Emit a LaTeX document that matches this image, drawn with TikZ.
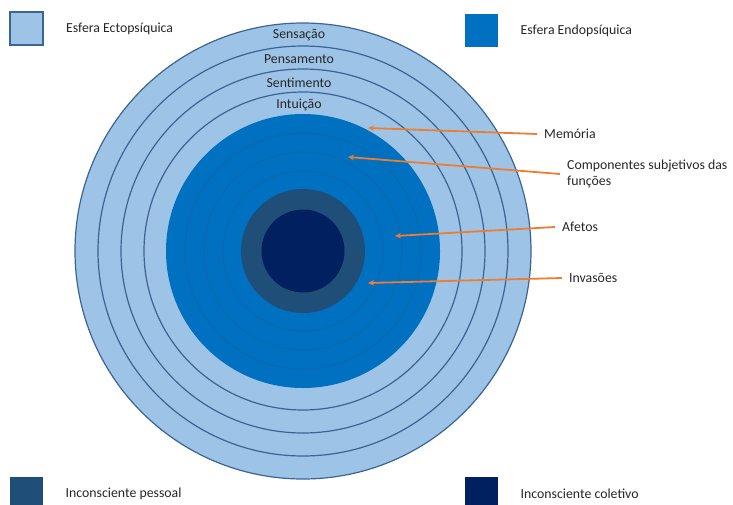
\documentclass[tikz,border=0pt]{standalone}
\usepackage{fontspec}
\setmainfont{Carlito}
\usetikzlibrary{arrows.meta,positioning}

\definecolor{ectoblue}{HTML}{9DC3E6}
\definecolor{ringline}{HTML}{3A6593}
\definecolor{endoblue}{HTML}{0070C0}
\definecolor{endoline}{HTML}{1764AA}
\definecolor{pessoal}{HTML}{1F4E79}
\definecolor{coletivo}{HTML}{002060}
\definecolor{seta}{HTML}{ED7D31}
\definecolor{texto}{HTML}{262626}

\tikzstyle{ring} = [circle, inner sep=0pt, draw=ringline, line width=1.2pt, fill=ectoblue]
\tikzstyle{endoring} = [circle, inner sep=0pt, draw=endoline, line width=0.7pt, fill=endoblue]
\tikzstyle{core} = [circle, inner sep=0pt]
\tikzstyle{legendbox} = [rectangle, inner sep=0pt, minimum width=33pt, minimum height=33pt]
\tikzstyle{legendtext} = [text=texto, font=\fontsize{13.8}{16}\selectfont]
\tikzstyle{ringtext} = [text=texto, font=\fontsize{13.8}{16}\selectfont]
\tikzstyle{notetext} = [text=texto, anchor=west, align=left, inner xsep=7pt, font=\fontsize{13.8}{16.5}\selectfont]
\tikzstyle{arrow} = [seta, line width=1.8pt, -{Stealth[length=6pt,width=5.5pt]}]

\begin{document}
\begin{tikzpicture}[x=1pt, y=-1pt, node distance=19pt]
                \useasboundingbox (0,0) rectangle (733,504);
                \coordinate (c) at (303,251);
                % esfera ectopsiquica
                \node (sens) [ring, minimum size=456pt] at (c) {};
                \node (pens) [ring, minimum size=410pt] at (c) {};
                \node (sent) [ring, minimum size=364pt] at (c) {};
                \node (intu) [ring, minimum size=318pt] at (c) {};
                % esfera endopsiquica
                \node (endo) [endoring, draw=none, minimum size=274pt] at (c) {};
                \node (endoa) [endoring, minimum size=236pt] at (c) {};
                \node (endob) [endoring, minimum size=198pt] at (c) {};
                \node (endoc) [endoring, minimum size=160pt] at (c) {};
                \node (pess) [core, fill=pessoal, minimum size=124pt] at (c) {};
                \node (colet) [core, fill=coletivo, minimum size=83pt] at (c) {};

                \node (tsens) [ringtext] at (299,35) {Sensação};
                \node (tpens) [ringtext] at (299,59) {Pensamento};
                \node (tsent) [ringtext] at (299,83) {Sentimento};
                \node (tintu) [ringtext] at (299,105) {Intuição};

                % setas
                \coordinate (pmem) at (368,128);
                \coordinate (pcomp) at (348,157);
                \coordinate (pafe) at (395,236);
                \coordinate (pinv) at (368,283);
                \node (lmem) [notetext] at (537,134) {Memória};
                \node (lcomp) [notetext] at (560,174) {Componentes subjetivos das\\funções};
                \node (lafe) [notetext] at (555,227) {Afetos};
                \node (linv) [notetext] at (562,278) {Invasões};

                \draw [arrow] (lmem.west) -- (pmem);
                \draw [arrow] (lcomp.west) -- (pcomp);
                \draw [arrow] (lafe.west) -- (pafe);
                \draw [arrow] (linv.west) -- (pinv);

                % legenda
                \node (becto) [legendbox, fill=ectoblue, draw=ringline, line width=1.2pt] at (26.5,28.5) {};
                \node (tecto) [legendtext, right=of becto] {Esfera Ectopsíquica};
                \node (bendo) [legendbox, fill=endoblue] at (481.5,30.5) {};
                \node (tendo) [legendtext, right=of bendo] {Esfera Endopsíquica};
                \node (bpess) [legendbox, fill=pessoal] at (26.5,493.5) {};
                \node (tpess) [legendtext, right=of bpess] {Inconsciente pessoal};
                \node (bcolet) [legendbox, fill=coletivo] at (481.5,493.5) {};
                \node (tcolet) [legendtext, right=of bcolet] {Inconsciente coletivo};
            \end{tikzpicture}
\end{document}
